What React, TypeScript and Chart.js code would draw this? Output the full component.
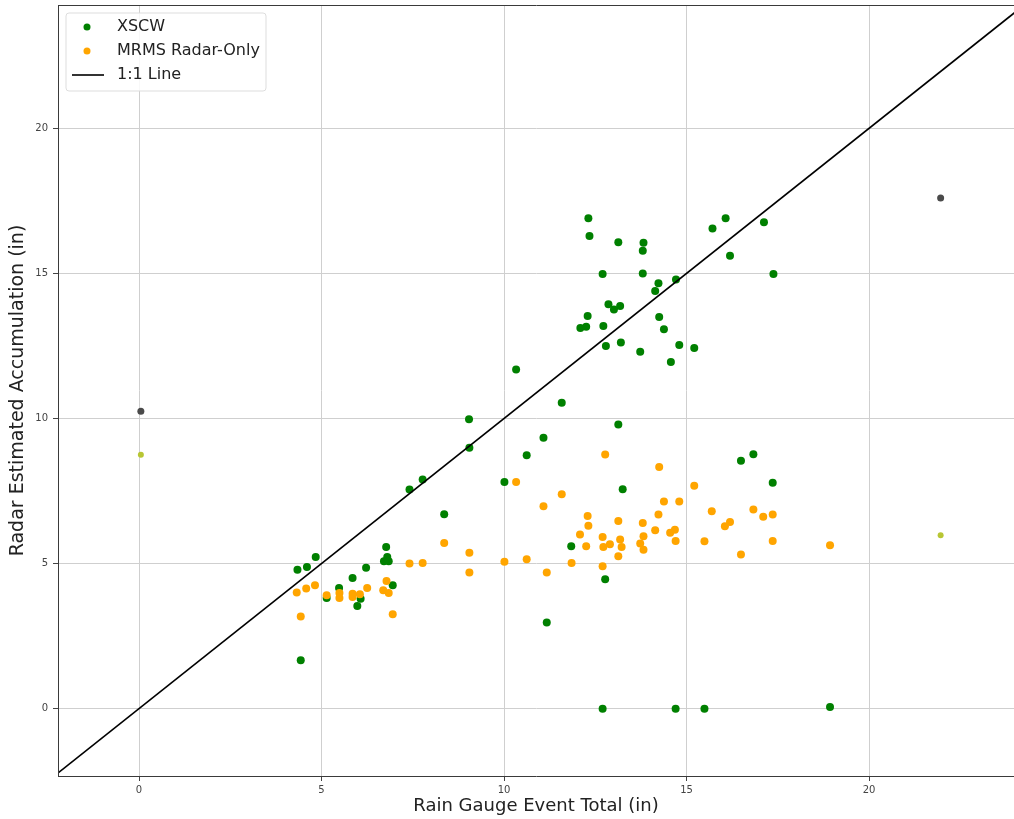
import React, { useEffect, useRef } from "react";
import { Chart, registerables } from "chart.js";

Chart.register(...registerables);

// ---- Data ----
const xscwX = [
  12.31, 12.34, 13.13, 13.82, 13.8, 12.7, 13.8, 14.23, 14.71, 14.14, 12.86, 13.18, 13.01, 12.29, 14.25, 12.09,
  12.25, 12.72, 14.38, 12.79, 13.2, 13.73, 14.8, 15.21, 14.57, 10.33, 15.71, 16.07, 17.12, 16.19, 17.38, 11.58,
  9.04, 9.05, 13.13, 11.08, 10.62, 10.01, 13.25, 16.49, 16.83, 17.36, 11.84, 12.77,
  7.41, 7.77, 8.36, 6.77, 6.8, 6.71, 6.84, 6.22, 4.84, 4.6, 4.34, 5.85, 5.48, 6.95, 5.14, 6.07, 5.98, 4.43, 11.17,
  12.7, 14.7, 15.49, 18.93,
];
const xscwY = [
  16.9, 16.29, 16.07, 16.06, 15.78, 14.98, 15.0, 14.66, 14.79, 14.39, 13.94, 13.88, 13.76, 13.53, 13.5, 13.12,
  13.16, 13.19, 13.08, 12.5, 12.62, 12.3, 12.53, 12.43, 11.95, 11.69, 16.55, 16.9, 16.76, 15.61, 14.98, 10.54,
  9.97, 8.99, 9.79, 9.34, 8.73, 7.81, 7.56, 8.54, 8.77, 7.79, 5.6, 4.46,
  7.55, 7.9, 6.7, 5.57, 5.23, 5.08, 5.08, 4.86, 5.23, 4.88, 4.79, 4.5, 4.16, 4.25, 3.81, 3.79, 3.54, 1.67, 2.97,
  0.0, 0.0, 0.0, 0.06,
];

const mrmsX = [
  10.33, 12.77, 14.25, 11.58, 11.08, 15.21, 14.38, 14.8, 12.29, 12.31, 13.13, 13.8, 14.23, 15.69, 16.83, 17.1,
  17.36, 16.05, 16.19, 12.08, 12.7, 13.82, 14.14, 14.55, 14.68, 14.7, 15.49, 17.36, 12.25, 12.72, 12.9, 13.18,
  13.22, 13.13, 13.73, 13.82, 16.49, 9.05, 9.05, 10.01, 10.62, 11.17, 11.85, 12.7, 18.93,
  8.36, 7.41, 7.77, 6.78, 6.69, 6.84, 6.25, 4.82, 4.58, 4.32, 5.14, 5.49, 5.49, 5.85, 5.85, 6.05, 4.43, 6.95,
];
const mrmsY = [
  7.81, 8.76, 8.33, 7.39, 6.98, 7.68, 7.14, 7.14, 6.64, 6.3, 6.47, 6.4, 6.69, 6.8, 6.86, 6.61,
  6.69, 6.29, 6.43, 6.0, 5.92, 5.94, 6.15, 6.06, 6.17, 5.78, 5.77, 5.78, 5.6, 5.57, 5.67, 5.83,
  5.57, 5.25, 5.69, 5.48, 5.31, 5.37, 4.69, 5.06, 5.15, 4.69, 5.02, 4.91, 5.63,
  5.71, 5.0, 5.02, 4.4, 4.08, 3.99, 4.16, 4.25, 4.14, 4.0, 3.91, 3.99, 3.81, 3.96, 3.85, 3.94, 3.18, 3.25,
];

// faint outlier marks at x = 0 and x = 22
const xscwOutX = [0.05, 21.96];
const xscwOutY = [10.25, 17.6];
const mrmsOutX = [0.05, 21.96];
const mrmsOutY = [8.75, 5.98];

const lineX = [-2.4, 24.4];

const xTicks = [0, 5, 10, 15, 20];
const yTicks = [0, 5, 10, 15, 20];

const seriesNames = ["XSCW", "MRMS Radar-Only", "1:1 Line"];

const X_MIN = -2.22;
const X_MAX = 23.97;
const Y_MIN = -2.32;
const Y_MAX = 24.25;

const FONT = "'DejaVu Sans', sans-serif";

const zip = (xs: number[], ys: number[]) => xs.map((x, i) => ({ x, y: ys[i] }));

const framePlugin = {
  id: "frame",
  afterDatasetsDraw(chart: any) {
    const { ctx, chartArea } = chart;
    ctx.save();
    ctx.strokeStyle = "#3a3a3a";
    ctx.lineWidth = 1;
    ctx.beginPath();
    ctx.moveTo(chartArea.left + 0.5, chartArea.bottom + 0.5);
    ctx.lineTo(chartArea.left + 0.5, chartArea.top + 0.5);
    ctx.lineTo(chartArea.right + 0.5, chartArea.top + 0.5);
    ctx.stroke();
    ctx.restore();
  },
  afterDraw(chart: any) {
    const ctx = chart.ctx;
    ctx.save();
    // legend box
    const bx = 66, by = 13, bw = 200, bh = 78;
    ctx.fillStyle = "rgba(255,255,255,0.85)";
    ctx.strokeStyle = "#dddddd";
    ctx.lineWidth = 1;
    const r = 3;
    ctx.beginPath();
    ctx.moveTo(bx + r, by);
    ctx.lineTo(bx + bw - r, by);
    ctx.quadraticCurveTo(bx + bw, by, bx + bw, by + r);
    ctx.lineTo(bx + bw, by + bh - r);
    ctx.quadraticCurveTo(bx + bw, by + bh, bx + bw - r, by + bh);
    ctx.lineTo(bx + r, by + bh);
    ctx.quadraticCurveTo(bx, by + bh, bx, by + bh - r);
    ctx.lineTo(bx, by + r);
    ctx.quadraticCurveTo(bx, by, bx + r, by);
    ctx.closePath();
    ctx.fill();
    ctx.stroke();

    const rows = [27, 51, 75];
    ctx.font = `16px ${FONT}`;
    ctx.textBaseline = "middle";
    ctx.textAlign = "left";
    const colors = ["#008000", "#FFA500"];
    for (let i = 0; i < 2; i++) {
      ctx.fillStyle = colors[i];
      ctx.beginPath();
      ctx.arc(87, rows[i], 3.5, 0, Math.PI * 2);
      ctx.fill();
    }
    ctx.strokeStyle = "#000";
    ctx.lineWidth = 1.6;
    ctx.beginPath();
    ctx.moveTo(72, rows[2]);
    ctx.lineTo(104, rows[2]);
    ctx.stroke();
    ctx.fillStyle = "#222";
    seriesNames.forEach((n, i) => ctx.fillText(n, 117, rows[i]));
    ctx.restore();
  },
};

export default function App() {
  const ref = useRef<HTMLCanvasElement | null>(null);

  useEffect(() => {
    if (!ref.current) return;
    const chart = new Chart(ref.current, {
      type: "scatter",
      data: {
        datasets: [
          {
            type: "line",
            label: seriesNames[2],
            data: zip(lineX, lineX),
            borderColor: "#000000",
            borderWidth: 1.6,
            pointRadius: 0,
            fill: false,
          } as any,
          {
            label: seriesNames[1],
            data: zip(mrmsX, mrmsY),
            backgroundColor: "#FFA500",
            borderWidth: 0,
            pointRadius: 4,
          },
          {
            label: seriesNames[0],
            data: zip(xscwX, xscwY),
            backgroundColor: "#008000",
            borderWidth: 0,
            pointRadius: 4,
          },
          {
            label: "xscw-out",
            data: zip(xscwOutX, xscwOutY),
            backgroundColor: "#4a4a4a",
            borderWidth: 0,
            pointRadius: 3.5,
          },
          {
            label: "mrms-out",
            data: zip(mrmsOutX, mrmsOutY),
            backgroundColor: "#b8c634",
            borderWidth: 0,
            pointRadius: 3,
          },
        ],
      },
      options: {
        animation: false,
        responsive: false,
        maintainAspectRatio: false,
        layout: { autoPadding: false, padding: { left: 0, right: 0, top: 5, bottom: 0 } },
        plugins: {
          legend: { display: false },
          tooltip: { enabled: false },
        },
        scales: {
          x: {
            type: "linear",
            min: X_MIN,
            max: X_MAX,
            afterBuildTicks: (s: any) => {
              s.ticks = xTicks.map((v) => ({ value: v }));
            },
            afterFit: (s: any) => {
              s.height = 43;
              s.paddingLeft = 0;
              s.paddingRight = 0;
            },
            ticks: {
              font: { family: FONT, size: 10 },
              color: "#444",
              padding: 3,
              maxRotation: 0,
              callback: (v: any) => String(v),
            },
            grid: {
              color: "#cfcfcf",
              lineWidth: 1,
              drawTicks: true,
              tickLength: 5,
              tickColor: "#444",
            },
            border: { display: true, color: "#3a3a3a", width: 1 },
            title: {
              display: true,
              text: "Rain Gauge Event Total (in)",
              font: { family: FONT, size: 18 },
              color: "#222",
              padding: { top: 0, bottom: 2 },
            },
          },
          y: {
            type: "linear",
            min: Y_MIN,
            max: Y_MAX,
            afterBuildTicks: (s: any) => {
              s.ticks = yTicks.map((v) => ({ value: v }));
            },
            afterFit: (s: any) => {
              s.width = 58;
              s.paddingTop = 0;
              s.paddingBottom = 0;
            },
            ticks: {
              font: { family: FONT, size: 10 },
              color: "#444",
              padding: 5,
              callback: (v: any) => String(v),
            },
            grid: {
              color: "#cfcfcf",
              lineWidth: 1,
              drawTicks: true,
              tickLength: 5,
              tickColor: "#444",
            },
            border: { display: true, color: "#3a3a3a", width: 1 },
            title: {
              display: true,
              text: "Radar Estimated Accumulation (in)",
              font: { family: FONT, size: 19 },
              color: "#222",
              padding: { top: 7, bottom: 0 },
            },
          },
        },
      },
      plugins: [framePlugin],
    });
    return () => chart.destroy();
  }, []);

  return (
    <div style={{ position: "fixed", left: 0, top: 0, width: 1014, height: 819, background: "#fff" }}>
      <canvas ref={ref} width={1014} height={819} style={{ width: 1014, height: 819, display: "block" }} />
    </div>
  );
}
